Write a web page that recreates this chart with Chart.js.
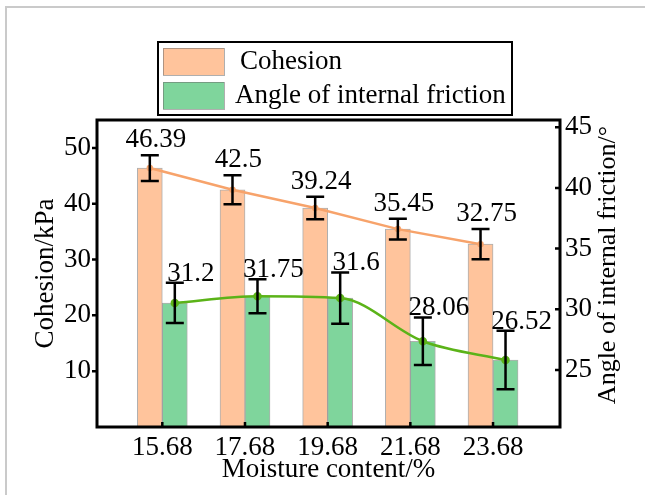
<!DOCTYPE html>
<html>
<head>
<meta charset="utf-8">
<script src="https://cdn.jsdelivr.net/npm/chart.js@4.4.1/dist/chart.umd.min.js"></script>
<style>
  html, body { margin: 0; padding: 0; background: #fff; }
  #wrap { position: relative; width: 645px; height: 495px; overflow: hidden; }
  #edge { position: absolute; left: 5px; top: 6px; right: -10px; bottom: -10px;
          border-left: 2px solid #cacaca; border-top: 2px solid #cacaca; pointer-events: none; }
</style>
</head>
<body>
<div id="wrap">
  <canvas id="canvas" width="645" height="495"></canvas>
  <div id="edge"></div>
</div>
<script>
  // data
  const moisture = [15.68, 17.68, 19.68, 21.68, 23.68];
  const cohesion = [46.39, 42.5, 39.24, 35.45, 32.75];
  const cohesionErr = [2.3, 2.6, 2.0, 1.85, 2.7];
  const friction = [31.2, 31.75, 31.6, 28.06, 26.52];
  const frictionErr = [1.65, 1.4, 2.1, 1.95, 2.4];
  const cohesionTicks = [10, 20, 30, 40, 50];
  const frictionTicks = [25, 30, 35, 40, 45];

  const colors = {
    orange: "#FFC49C",
    orangeLine: "#F7A36B",
    green: "#7FD59C",
    greenLine: "#5BB318",
    edge: "rgba(110, 110, 110, 0.55)"
  };

  const serif = "'Liberation Serif', 'Times New Roman', serif";
  const font = { family: serif, size: 27 };

  const BAR_PX = 25;
  const xMin = 14.1, xMax = 25.3;
  // half a bar, in x units (463px plot width)
  const shift = (BAR_PX / 2) * (xMax - xMin) / 463;

  const ctx = document.getElementById("canvas").getContext("2d");

  const pts = (ys) => moisture.map((m, i) => ({ x: m, y: ys[i] }));

  // error bars, value labels, frame, ticks, right title and the legend box
  const extras = {
    id: "extras",
    afterDatasetsDraw(chart) {
      const c = chart.ctx;
      const sets = [
        { meta: chart.getDatasetMeta(0), vals: cohesion, errs: cohesionErr, scale: chart.scales.y, dx: 6, gap: 8 },
        { meta: chart.getDatasetMeta(1), vals: friction, errs: frictionErr, scale: chart.scales.yG, dx: 16, gap: 2 }
      ];
      c.save();
      c.strokeStyle = "#000";
      c.lineWidth = 2.5;
      c.fillStyle = "#000";
      c.font = "27px " + serif;
      c.textAlign = "center";
      c.textBaseline = "alphabetic";
      sets.forEach(s => {
        s.meta.data.forEach((bar, i) => {
          const x = bar.x;
          const yTop = s.scale.getPixelForValue(s.vals[i] + s.errs[i]);
          const yBot = s.scale.getPixelForValue(s.vals[i] - s.errs[i]);
          c.beginPath();
          c.moveTo(x, yTop); c.lineTo(x, yBot);
          c.moveTo(x - 9, yTop); c.lineTo(x + 9, yTop);
          c.moveTo(x - 9, yBot); c.lineTo(x + 9, yBot);
          c.stroke();
          c.fillText(String(s.vals[i]), x + s.dx, yTop - s.gap);
        });
      });
      c.restore();
    },
    afterDraw(chart) {
      const c = chart.ctx;
      const a = chart.chartArea;
      c.save();
      // frame
      c.strokeStyle = "#000";
      c.lineWidth = 3;
      c.strokeRect(a.left, a.top, a.right - a.left, a.bottom - a.top);
      // tick marks
      c.lineWidth = 2.5;
      c.beginPath();
      cohesionTicks.forEach(v => {
        const y = chart.scales.y.getPixelForValue(v);
        c.moveTo(a.left - 5, y); c.lineTo(a.left, y);
      });
      frictionTicks.forEach(v => {
        const y = chart.scales.yR.getPixelForValue(v);
        c.moveTo(a.right - 5, y); c.lineTo(a.right, y);
      });
      moisture.forEach(v => {
        const x = chart.scales.x.getPixelForValue(v);
        c.moveTo(x, a.bottom); c.lineTo(x, a.bottom - 5);
      });
      c.stroke();

      // right axis title, reading upwards
      c.fillStyle = "#000";
      c.font = "26px " + serif;
      c.textAlign = "center";
      c.textBaseline = "middle";
      c.translate(608, 265);
      c.rotate(-Math.PI / 2);
      c.fillText("Angle of internal friction/°", 0, 0);
      c.setTransform(1, 0, 0, 1, 0, 0);

      // legend
      const lx = 158, ly = 42, lw = 354, lh = 73;
      c.fillStyle = "#fff";
      c.fillRect(lx, ly, lw, lh);
      c.lineWidth = 2;
      c.strokeStyle = "#000";
      c.strokeRect(lx, ly, lw, lh);
      const items = [
        { label: chart.data.datasets[0].label, color: colors.orange, y: 48, tx: 240 },
        { label: chart.data.datasets[1].label, color: colors.green, y: 82, tx: 235 }
      ];
      c.font = "27px " + serif;
      c.textAlign = "left";
      items.forEach(it => {
        c.fillStyle = it.color;
        c.fillRect(163, it.y, 61, 27);
        c.lineWidth = 1;
        c.strokeStyle = colors.edge;
        c.strokeRect(163.5, it.y + 0.5, 61, 27);
        c.fillStyle = "#000";
        c.fillText(it.label, it.tx, it.y + 14);
      });
      c.restore();
    }
  };

  const options = {
    type: "bar",
    data: {
      datasets: [
        {
          type: "bar",
          label: "Cohesion",
          data: pts(cohesion),
          xAxisID: "xL",
          yAxisID: "y",
          backgroundColor: colors.orange,
          borderColor: colors.edge,
          borderWidth: 1,
          barThickness: BAR_PX,
          grouped: false,
          order: 3
        },
        {
          type: "bar",
          label: "Angle of internal friction",
          data: pts(friction),
          xAxisID: "xG",
          yAxisID: "yG",
          backgroundColor: colors.green,
          borderColor: colors.edge,
          borderWidth: 1,
          barThickness: BAR_PX,
          grouped: false,
          order: 3
        },
        {
          type: "line",
          label: "Cohesion trend",
          data: pts(cohesion),
          xAxisID: "xL",
          yAxisID: "y",
          borderColor: colors.orangeLine,
          backgroundColor: colors.orangeLine,
          borderWidth: 2.5,
          pointRadius: 2,
          tension: 0,
          order: 1
        },
        {
          type: "line",
          label: "Friction trend",
          data: pts(friction),
          xAxisID: "xG",
          yAxisID: "yG",
          borderColor: colors.greenLine,
          backgroundColor: colors.greenLine,
          borderWidth: 2.5,
          pointRadius: 3,
          cubicInterpolationMode: "monotone",
          order: 1
        }
      ]
    },
    options: {
      responsive: false,
      animation: false,
      devicePixelRatio: 1,
      layout: { padding: { top: 120, left: 0, right: 0, bottom: 0 } },
      plugins: {
        legend: { display: false },
        tooltip: { enabled: false }
      },
      scales: {
        x: {
          type: "linear",
          offset: false,
          min: xMin,
          max: xMax,
          afterBuildTicks: s => { s.ticks = moisture.map(v => ({ value: v })); },
          afterFit: s => { s.height = 68; },
          grid: { display: false, drawTicks: false, offset: false },
          border: { display: false },
          ticks: {
            font: font,
            color: "#000",
            padding: 5,
            autoSkip: false,
            maxRotation: 0,
            callback: v => v.toFixed(2)
          },
          title: {
            display: true,
            text: "Moisture content/%",
            font: font,
            color: "#000",
            padding: { top: 0, bottom: 9 }
          }
        },
        // bars and trend lines sit half a bar either side of each moisture tick
        xL: { type: "linear", display: false, offset: false, grid: { offset: false }, min: xMin + shift, max: xMax + shift },
        xG: { type: "linear", display: false, offset: false, grid: { offset: false }, min: xMin - shift, max: xMax - shift },
        y: {
          type: "linear",
          position: "left",
          min: 0,
          max: 55,
          afterBuildTicks: s => { s.ticks = cohesionTicks.map(v => ({ value: v })); },
          afterFit: s => { s.width = 97; },
          grid: { display: false, drawTicks: false },
          border: { display: false },
          ticks: { font: font, color: "#000", padding: 6 },
          title: {
            display: true,
            text: "Cohesion/kPa",
            font: font,
            color: "#000",
            padding: { top: 30, bottom: 0 }
          }
        },
        yR: {
          type: "linear",
          position: "right",
          min: 20.3,
          max: 45.6,
          afterBuildTicks: s => { s.ticks = frictionTicks.map(v => ({ value: v })); },
          afterFit: s => { s.width = 85; },
          grid: { display: false, drawTicks: false },
          border: { display: false },
          ticks: { font: font, color: "#000", padding: 5 }
        },
        // the green bars sit a little below the printed right-hand ticks in the figure
        yG: { type: "linear", display: false, min: 21.03, max: 46.2 }
      }
    },
    plugins: [extras]
  };

  window.myChart = new Chart(ctx, options);
</script>
</body>
</html>
